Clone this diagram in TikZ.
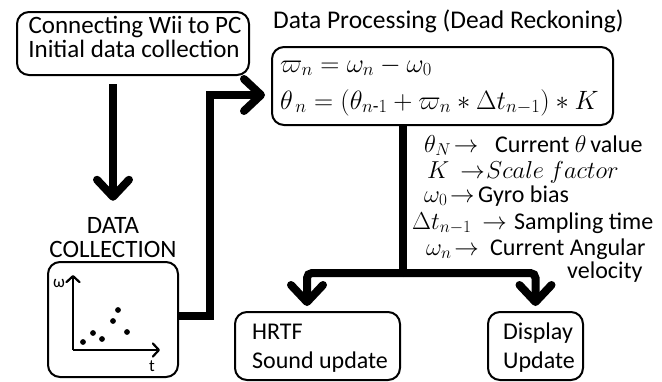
\RequirePackage{fix-cm}
\documentclass[tikz,border=0pt]{standalone}
\usepackage{amsmath}
\usepackage{fontspec}
\setmainfont{Carlito}
\usetikzlibrary{arrows.meta}
\begin{document}
\begin{tikzpicture}[x=1pt,y=-1pt,
  box/.style={draw, line width=2pt, rounded corners=12pt, inner sep=0pt},
  big/.style={line width=8pt, -{Straight Barb[length=17pt,width=32pt,round]}},
  thick8/.style={line width=8pt},
  axisline/.style={line width=2.2pt, -{Straight Barb[length=6pt,width=13pt,round]}},
  txt/.style={inner sep=0pt, anchor=base west, font=\fontsize{25}{25}\selectfont},
  ctxt/.style={txt, anchor=base},
  mth/.style={inner sep=0pt, anchor=base west, font=\fontsize{26.5}{27}\selectfont},
  lg/.style={inner sep=0pt, anchor=base west, font=\fontsize{24}{26}\selectfont},
  lgm/.style={inner sep=0pt, anchor=base west, font=\fontsize{24.5}{26}\selectfont},
  smalltxt/.style={inner sep=0pt, font=\fontsize{17}{17}\selectfont}
]
\useasboundingbox (0,0) rectangle (662,381);
\fill[white] (0,0) rectangle (662,381);

% box 1
\node[box, minimum width=232pt, minimum height=63pt] (b1) at (133,43.5) {};
\node[ctxt] (b1a) at (135,33) {Connecting Wii to PC};
\node[ctxt] (b1b) at (134,57) {Initial data collection};

% title and formula box
\node[txt, font=\fontsize{25.5}{25}\selectfont] (title) at (273,28) {Data Processing (Dead Reckoning)};
\node[box, minimum width=341pt, minimum height=78pt] (fb) at (442.5,86) {};
\node[mth] (f1) at (280,72) {$\varpi_n=\omega_n-\omega_0$};
\node[mth] (f2) at (280,109) {$\theta_{\,n}=(\theta_{n\text{-}1}+\varpi_n*\Delta t_{n-1})*K$};

% data collection
\node[ctxt] (dcl1) at (113,233) {DATA};
\node[ctxt] (dcl2) at (113,257) {COLLECTION};
\node[box, minimum width=130pt, minimum height=115pt] (dc) at (113,319.5) {};
\coordinate (o) at (73,350);
\coordinate (ytop) at (73,275);
\coordinate (xend) at (160,350);
\draw[axisline] (o) -- (ytop);
\draw[axisline] (o) -- (xend);
\node[smalltxt] (wl) at (59,283) {ω};
\node[smalltxt] (tl) at (152,366) {t};
\foreach \p in {(83,342),(93,333),(102,339),(113,321),(118,310),(127,332)}
  \fill \p circle (2.9);

% HRTF and display
\node[box, minimum width=165pt, minimum height=68pt] (hr) at (317.5,346) {};
\node[lg] (hr1) at (252,339) {HRTF};
\node[lg] (hr2) at (252,368) {Sound update};
\node[box, minimum width=95pt, minimum height=68pt] (dp) at (535.5,346) {};
\node[lg] (dp1) at (503,339) {Display};
\node[lg] (dp2) at (503,368) {Update};

% legend
\node[lgm] (l1a) at (424,152) {$\theta_N\!\rightarrow$};
\node[lg] (l1b) at (495,152) {Current $\theta$\,value};
\node[lgm] (l2a) at (427,178) {$K\,\rightarrow$};
\node[lgm] (l2b) at (486,178) {$Scale\ factor$};
\node[lgm] (l3a) at (424,202) {$\omega_0\!\rightarrow$};
\node[lg] (l3b) at (478,202) {Gyro bias};
\node[lgm] (l4a) at (412,229) {$\Delta t_{n-1}\,\rightarrow$};
\node[lg] (l4b) at (514,229) {Sampling time};
\node[lgm] (l5a) at (426,255) {$\omega_n\!\rightarrow$};
\node[lg] (l5b) at (490,255) {Current Angular};
\node[lg] (l6) at (567,278) {velocity};

% connectors
\draw[big, shorten <=8pt, shorten >=16pt] (b1.south -| dcl1.south) -- (dcl1.north);
\draw[big, shorten >=6pt] ([yshift=3.5pt]dc.east) -- ++(31,0) coordinate (c1) |- ([yshift=-9pt]fb.west);
\draw[thick8] ([xshift=-39.5pt]fb.south) -- ++(0,147) coordinate (sp);
\draw[big, rounded corners=5pt, shorten >=5pt] (sp) -| ([xshift=-10.5pt]hr.north);
\draw[big, rounded corners=5pt, shorten >=5pt] (sp) -| (dp.north);
\end{tikzpicture}
\end{document}
